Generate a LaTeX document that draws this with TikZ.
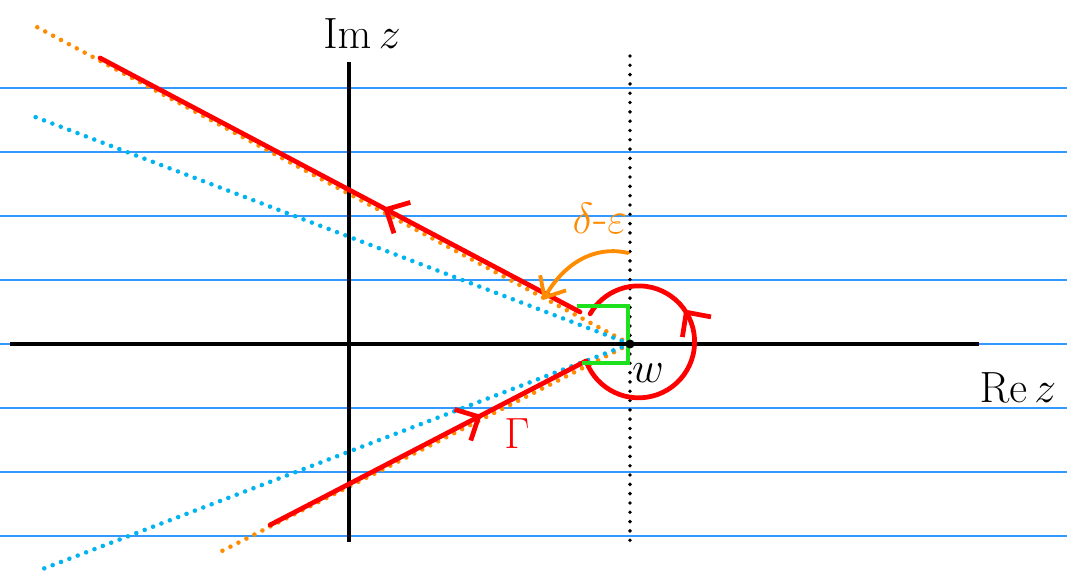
\documentclass[tikz,border=0pt]{standalone}
\usepackage{amsmath,amssymb}
\usepackage{xcolor}
\usetikzlibrary{arrows.meta,decorations.markings}

\definecolor{ruled}{RGB}{51,153,255}
\definecolor{skyblue}{RGB}{0,180,240}
\definecolor{penorange}{RGB}{255,140,0}
\definecolor{penred}{RGB}{255,0,0}
\definecolor{pengreen}{RGB}{30,225,30}

\begin{document}
\begin{tikzpicture}[
    x=0.02cm, y=-0.02cm,
    ruleline/.style={ruled, line width=0.7pt},
    axis/.style={black, line width=2pt},
    dotline/.style={line width=2.6pt, line cap=round, dash pattern=on 0pt off 5.1pt},
    contour/.style={penred, line width=2.7pt, line cap=round, line join=round},
    midarrow/.style={decoration={markings, mark=at position #1 with {\arrow{Straight Barb[length=0.36cm, width=0.7cm]}}}, postaction={decorate}},
    handtext/.style={font=\fontsize{27}{32}\selectfont, inner sep=0pt}
]

% Frame
\fill[white] (0,0) rectangle (1067,573);
\useasboundingbox (0,0) rectangle (1067,573);

% Ruled lines
\foreach \y in {88,152,...,536}
    \draw[ruleline] (0,\y) -- (1067,\y);

% Points
\coordinate (w) at (630,344);
\coordinate (reLeft) at (10,344);
\coordinate (reRight) at (979,344);
\coordinate (imTop) at (349,62);
\coordinate (imBottom) at (349,542);
\coordinate (vTop) at (630,56);
\coordinate (vBottom) at (630,544);
\coordinate (orUp) at (33,25);
\coordinate (orDown) at (218,553);
\coordinate (blUp) at (30,115);
\coordinate (blDown) at (40,570);
\coordinate (upFar) at (100,58);
\coordinate (upEnd) at (580,312);
\coordinate (lowFar) at (270,525);
\coordinate (lowEnd) at (586,361);

% Dotted rays
\draw[dotline, penorange] (w) -- (orUp);
\draw[dotline, penorange] (w) -- (orDown);
\draw[dotline, skyblue] (w) -- (blUp);
\draw[dotline, skyblue] (w) -- (blDown);
\draw[dotline, line width=2.2pt, dash pattern=on 0pt off 5.3pt] (vTop) -- (vBottom);

% Axes
\draw[axis] (reLeft) -- (reRight);
\draw[axis] (imTop) -- (imBottom);

% Contour
\draw[contour, midarrow=0.41] (upEnd) -- (upFar);
\draw[contour, midarrow=0.67] (lowFar) -- (lowEnd);
\draw[contour, midarrow=0.63] (lowEnd) arc[start angle=200, end angle=510, radius=1.12cm];

% Right angle
\draw[pengreen, line width=1.8pt] (577,306) -- (628,306) -- (628,363) -- (582,363);

% Angle pointer
\coordinate (bendStart) at (628,253);
\coordinate (bendTip) at (543,300);
\draw[penorange, line width=2.2pt, line cap=round, -{Straight Barb[length=0.34cm, width=0.6cm]}] (bendStart) .. controls (604,247) and (570,254) .. (bendTip);

\fill (w) circle[radius=0.09cm];

% Labels
\node[handtext] (imLabel) at (362,34) {$\mathrm{Im}\,z$};
\node[handtext] (reLabel) at (1018,388) {$\mathrm{Re}\,z$};
\node[handtext] (wLabel) at (648,373) {$w$};
\node[handtext, text=penorange] (angleLabel) at (600,218) {$\delta\text{-}\varepsilon$};
\node[handtext, text=penred, font=\fontsize{34}{38}\selectfont] (gammaLabel) at (517,434) {$\Gamma$};

\end{tikzpicture}
\end{document}
